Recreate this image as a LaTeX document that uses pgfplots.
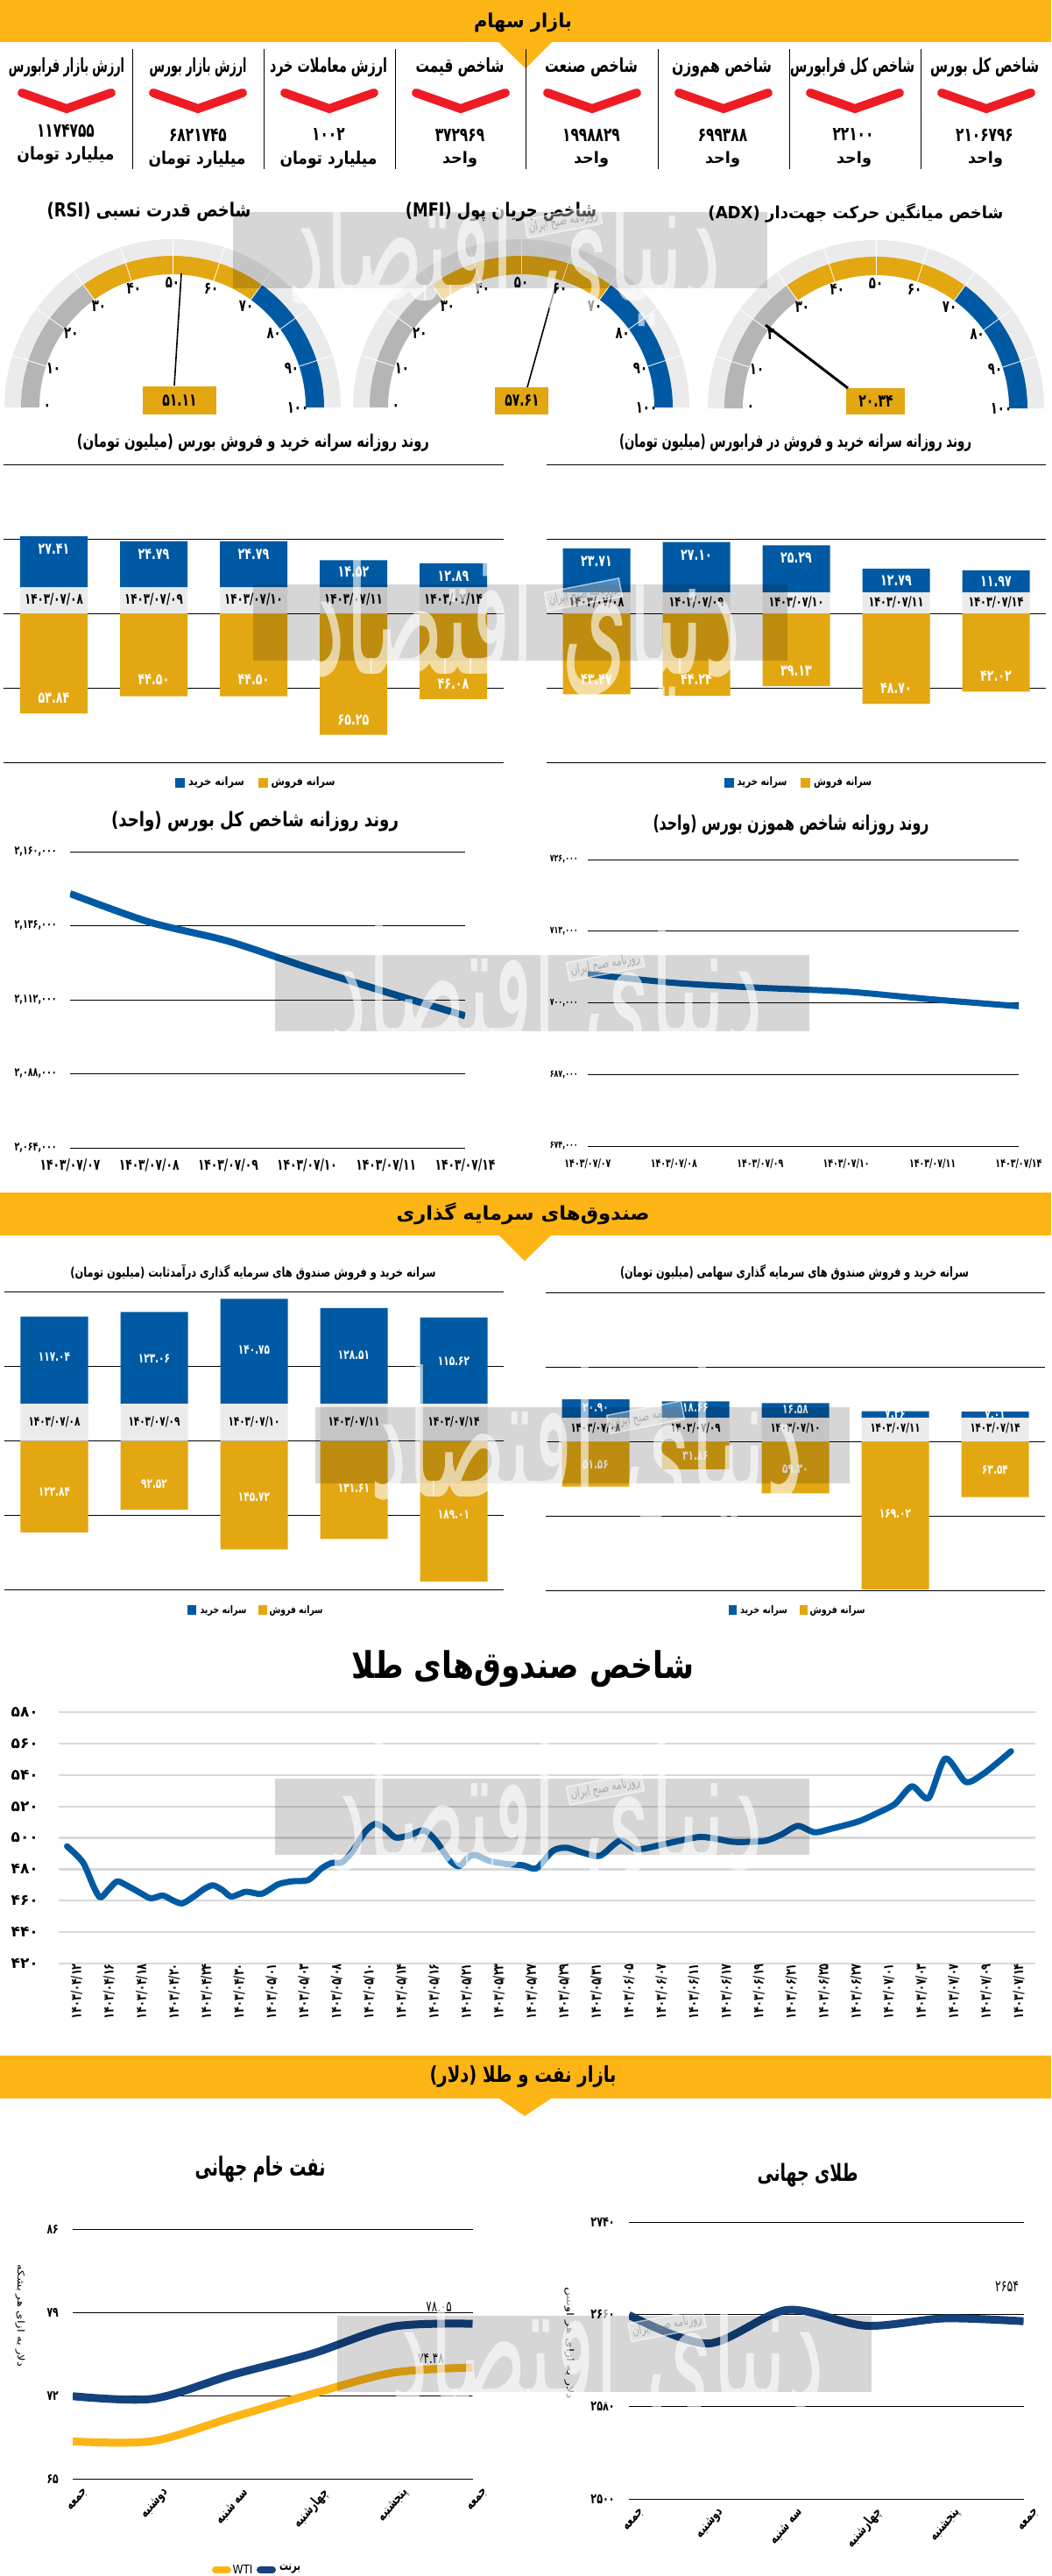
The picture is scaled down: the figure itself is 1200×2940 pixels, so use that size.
\documentclass[border=0pt]{standalone}
\usepackage{fontspec}
\usepackage{pgfplots}
\usepackage{pgfplotstable}
\pgfplotsset{compat=1.18}
\TeXXeTstate=1
\newfontfamily\fafam[Script=Arabic,FakeStretch=0.7]{DejaVu Sans}
\newfontfamily\fawide[Script=Arabic]{DejaVu Sans}
\setmainfont{DejaVu Sans}
\newcommand{\FS}[1]{\fontsize{#1}{#1}\selectfont\fafam}
\newcommand{\FB}[1]{\fontsize{#1}{#1}\selectfont\fafam\bfseries}
\newcommand{\R}[1]{\beginR #1\endR}
\newcommand{\tw}[5]{\node[inner sep=0pt] at (#1,#2) {\resizebox*{#3pt}{#4pt}{\FB{24}\R{#5}}};}
\newcommand{\twr}[6]{\node[inner sep=0pt,rotate=#6,text=black] at (#1,#2) {\resizebox*{#3pt}{#4pt}{\FS{24}\R{#5}}};}
\definecolor{band}{HTML}{FDB515}
\definecolor{gbar}{HTML}{E3A711}
\definecolor{bbar}{HTML}{005AA3}
\definecolor{navy}{HTML}{14427F}
\definecolor{spacer}{HTML}{EBEBEB}
\definecolor{lt}{HTML}{EBEBEB}
\definecolor{gr}{HTML}{B5B5B5}
\definecolor{chev}{HTML}{ED1C24}
\definecolor{gline}{HTML}{D9D9D9}

% Bar panels: i spacer buy sell, then label heights and label strings
\pgfplotstableread{
i spacer buy sell dy by sy d bl sl
0 14 27.41 -53.84 7.7 34.7 -45.3 ۱۴۰۳/۰۷/۰۸ ۲۷.۴۱ ۵۳.۸۴
1 14 24.79 -44.50 7.7 31.5 -35.6 ۱۴۰۳/۰۷/۰۹ ۲۴.۷۹ ۴۴.۵۰
2 14 24.79 -44.50 7.7 31.5 -35.6 ۱۴۰۳/۰۷/۱۰ ۲۴.۷۹ ۴۴.۵۰
3 14 14.52 -65.25 7.7 22.1 -57.1 ۱۴۰۳/۰۷/۱۱ ۱۴.۵۲ ۶۵.۲۵
4 14 12.89 -46.08 7.7 19.8 -38.0 ۱۴۰۳/۰۷/۱۴ ۱۲.۸۹ ۴۶.۰۸
}\tblA
\pgfplotstableread{
i spacer buy sell dy by sy d bl sl
0 11.2 23.71 -43.47 6.1 28.1 -35.5 ۱۴۰۳/۰۷/۰۸ ۲۳.۷۱ ۴۳.۴۷
1 11.2 27.10 -44.24 6.1 31.2 -35.6 ۱۴۰۳/۰۷/۰۹ ۲۷.۱۰ ۴۴.۲۴
2 11.2 25.29 -39.13 6.1 29.6 -30.7 ۱۴۰۳/۰۷/۱۰ ۲۵.۲۹ ۳۹.۱۳
3 11.2 12.79 -48.70 6.1 17.4 -40.3 ۱۴۰۳/۰۷/۱۱ ۱۲.۷۹ ۴۸.۷۰
4 11.2 11.97 -42.02 6.1 16.9 -33.6 ۱۴۰۳/۰۷/۱۴ ۱۱.۹۷ ۴۲.۰۲
}\tblB
\pgfplotstableread{
i spacer buy sell dy by sy d bl sl
0 50 117.04 -122.84 25.8 112.6 -68.0 ۱۴۰۳/۰۷/۰۸ ۱۱۷.۰۴ ۱۲۲.۸۴
1 50 123.06 -92.52 25.8 110.7 -58.3 ۱۴۰۳/۰۷/۰۹ ۱۲۳.۰۶ ۹۲.۵۲
2 50 140.75 -145.72 25.8 121.6 -75.9 ۱۴۰۳/۰۷/۱۰ ۱۴۰.۷۵ ۱۴۵.۷۲
3 50 128.51 -131.61 25.8 115.0 -64.1 ۱۴۰۳/۰۷/۱۱ ۱۲۸.۵۱ ۱۳۱.۶۱
4 50 115.62 -189.01 25.8 107.0 -98.5 ۱۴۰۳/۰۷/۱۴ ۱۱۵.۶۲ ۱۸۹.۰۱
}\tblC
\pgfplotstableread{
i spacer buy sell dy by sy d bl sl
0 27 20.90 -51.56 14.7 38.7 -26.3 ۱۴۰۳/۰۷/۰۸ ۲۰.۹۰ ۵۱.۵۶
1 27 18.66 -31.86 14.7 38.7 -17.0 ۱۴۰۳/۰۷/۰۹ ۱۸.۶۶ ۳۱.۸۶
2 27 16.58 -59.30 14.7 36.0 -31.3 ۱۴۰۳/۰۷/۱۰ ۱۶.۵۸ ۵۹.۳۰
3 27 7.36 -169.02 14.7 31.3 -83.0 ۱۴۰۳/۰۷/۱۱ ۷.۳۶ ۱۶۹.۰۲
4 27 7.01 -63.54 14.7 30.3 -33.0 ۱۴۰۳/۰۷/۱۴ ۷.۰۱ ۶۳.۵۴
}\tblD

\pgfplotsset{
 barbase/.style={scale only axis,width=570pt,height=340pt,anchor=north west,
   xmin=-0.5,xmax=4.5,axis line style={draw=none},tick style={draw=none},
   xtick=\empty},
 linebase/.style={scale only axis,anchor=north west,axis line style={draw=none},
   tick style={draw=none},ymajorgrids,grid style={black,line width=1pt},
   scaled y ticks=false,scaled x ticks=false,
   yticklabel style={anchor=east,inner sep=0pt},
   xticklabel style={inner sep=0pt},xmin=0,xmax=5,xtick={0,1,2,3,4,5}},
 lab/.style={draw=none,mark=none,point meta=explicit symbolic,nodes near coords,
   nodes near coords align={center}},
}

% x, ytop, ymax, half, table, date font size, value font size
\newcommand{\barpanel}[7]{%
\begin{axis}[barbase,at={(#1pt,-#2pt)},ymin=-#3,ymax=#3,ytick={-#3,-#4,0,#4,#3},
   yticklabels={},ymajorgrids,grid style={black,line width=1pt}]
\addplot[ybar,bar width=77pt,bar shift=0pt,fill=gbar,draw=none] table[x=i,y=sell]{#5};
\end{axis}
\begin{axis}[barbase,at={(#1pt,-#2pt)},ymin=-#3,ymax=#3,hide axis,ybar stacked,bar width=77pt]
\addplot[fill=spacer,draw=none] table[x=i,y=spacer]{#5};
\addplot[fill=bbar,draw=none] table[x=i,y=buy]{#5};
\end{axis}
\begin{axis}[barbase,at={(#1pt,-#2pt)},ymin=-#3,ymax=#3,hide axis,clip=false]
\addplot[lab,nodes near coords style={font=\FB{#6},text=black,inner sep=0pt}] table[x=i,y=dy,meta=d]{#5};
\addplot[lab,nodes near coords style={font=\FB{#7},text=white,inner sep=0pt}] table[x=i,y=by,meta=bl]{#5};
\addplot[lab,nodes near coords style={font=\FB{#7},text=white,inner sep=0pt}] table[x=i,y=sy,meta=sl]{#5};
\end{axis}}

\newcommand{\band}[5]{\fill[#5] (#1:#4pt) arc[start angle=#1,end angle=#2,radius=#4pt] -- (#2:#3pt) arc[start angle=#2,end angle=#1,radius=#3pt] -- cycle;}
\newcommand{\gauge}[2]{%
\begin{scope}[shift={(#1pt,-#2pt)}]
\band{180}{0}{172}{192}{lt}
\band{180}{126}{152}{173}{gr}
\band{126}{54}{152}{173}{gbar}
\band{54}{0}{152}{173}{bbar}
\foreach \a in {162,144,126,108,90,72,54,36,18} \draw[white,line width=.8pt] (\a:152pt)--(\a:192pt);
\foreach \v/\l in {0/۰,10/۱۰,20/۲۰,30/۳۰,40/۴۰,50/۵۰,60/۶۰,70/۷۰,80/۸۰,90/۹۰,100/۱۰۰}{
  \pgfmathsetmacro\ang{180-1.8*\v}
  \node[inner sep=0pt,font=\FB{19}] at (\ang:143pt) {\l};}
\end{scope}}
% cx, base y, bx, by, tx, ty, needle width
\newcommand{\needle}[7]{%
\begin{axis}[scale only axis,width=400pt,height=212pt,anchor=south west,at={(#1pt-200pt,-#2pt-12pt)},
  xmin=-200,xmax=200,ymin=-12,ymax=200,hide axis,clip=false]
\addplot[black,line width=#7pt,mark=none] coordinates {(#3,#4)(#5,#6)};
\end{axis}}
\newcommand{\wm}[2]{%
\fill[black,opacity=.16] (#1-305,#2-43.5) rectangle (#1+305,#2+43.5);
\node[inner sep=0pt,text=white,text opacity=.62] at (#1+5,#2-2) {\resizebox*{495pt}{180pt}{\FS{60}\R{دنیای اقتصاد}}};
\node[rotate=11,inner sep=3pt,draw=white,line width=1.5pt,draw opacity=.6,fill=white,fill opacity=.3,text opacity=.55,text=gray,font=\FS{15}] at (#1+72,#2-32) {\R{روزنامه صبح ایران}};}

\begin{document}
\begin{tikzpicture}
\path[use as bounding box,fill=white] (0pt,0pt) rectangle (1200pt,-2940pt);

\begin{scope}[x=1pt,y=-1pt]
% bands
\fill[band] (0,0) rectangle (1200,48);
\fill[band] (569,48) -- (630,48) -- (600,78) -- cycle;
\tw{597}{26}{112}{22}{بازار سهام}
\fill[band] (0,1361) rectangle (1200,1410);
\fill[band] (570,1410) -- (629,1410) -- (599,1439) -- cycle;
\tw{597}{1385}{289}{25}{صندوق‌های سرمایه گذاری}
\fill[band] (0,2346) rectangle (1200,2395);
\fill[band] (570,2395) -- (629,2395) -- (599,2415) -- cycle;
\tw{597}{2370}{213}{25}{بازار نفت و طلا (دلار)}

% KPI columns
\foreach \x in {151,301,451,600.5,751,901,1051} \draw[black,line width=1pt] (\x,56)--(\x,193);
\foreach \x in {76,226,376,526,676,826,976,1126}
  \draw[chev,line width=10pt,line cap=round,miter limit=4] (\x-51,106)--(\x,124)--(\x+51,106);
\tw{1124}{77}{124}{22}{شاخص کل بورس}
\tw{973}{77}{142}{22}{شاخص کل فرابورس}
\tw{824}{77}{114}{22}{شاخص هم‌وزن}
\tw{675}{77}{106}{22}{شاخص صنعت}
\tw{525}{77}{101}{22}{شاخص قیمت}
\tw{375}{77}{134}{22}{ارزش معاملات خرد}
\tw{226}{77}{111}{22}{ارزش بازار بورس}
\tw{76}{77}{132}{22}{ارزش بازار فرابورس}
\node[font=\FB{22}] at (1124,154) {۲۱۰۶۷۹۶};
\node[font=\FB{22}] at (974,154) {۲۲۱۰۰};
\node[font=\FB{22}] at (825,154) {۶۹۹۳۸۸};
\node[font=\FB{22}] at (675,154) {۱۹۹۸۸۲۹};
\node[font=\FB{22}] at (525,154) {۳۷۲۹۶۹};
\node[font=\FB{22}] at (375,154) {۱۰۰۲};
\node[font=\FB{22}] at (226,154) {۶۸۲۱۷۴۵};
\node[font=\FB{22}] at (75,149) {۱۱۷۴۷۵۵};
\tw{1125}{182}{40}{18}{واحد}
\tw{975}{182}{40}{18}{واحد}
\tw{825}{182}{40}{18}{واحد}
\tw{675}{182}{40}{18}{واحد}
\tw{525}{182}{40}{18}{واحد}
\tw{375}{182}{111}{20}{میلیارد تومان}
\tw{225}{182}{111}{20}{میلیارد تومان}
\tw{75}{177}{111}{20}{میلیارد تومان}
% gauge titles
\tw{170}{242}{233}{22}{شاخص قدرت نسبی (\beginL RSI\endL)}
\tw{572}{242}{218}{22}{شاخص جریان پول (\beginL MFI\endL)}
\tw{977}{243}{337}{22}{شاخص میانگین حرکت جهت‌دار (\beginL ADX\endL)}
\end{scope}

\gauge{197}{465}
\gauge{595}{465}
\gauge{1000}{466}
\begin{scope}[x=1pt,y=-1pt]
\fill[gbar] (163,441) rectangle (247,473);
\fill[gbar] (565,442) rectangle (626,473);
\fill[gbar] (966,443) rectangle (1033,473);
\node[font=\FB{20}] at (205,457) {۵۱.۱۱};
\node[font=\FB{20}] at (596,457) {۵۷.۶۱};
\node[font=\FB{20}] at (1000,458) {۲۰.۳۴};
\end{scope}
\needle{197}{465}{2}{25}{10}{153}{1.6}
\needle{595}{465}{7}{23}{39}{138}{1.6}
\needle{1000}{466}{-32}{23}{-126}{95}{3}

% top bar panels
\begin{scope}[x=1pt,y=-1pt]
\tw{289}{505}{402}{20}{روند روزانه سرانه خرید و فروش بورس (میلیون تومان)}
\tw{908}{505}{402}{20}{روند روزانه سرانه خرید و فروش در فرابورس (میلیون تومان)}
\fill[bbar] (200,888) rectangle (211,899); \tw{247}{893}{64}{13}{سرانه خرید}
\fill[gbar] (295,888) rectangle (306,899); \tw{346}{893}{73}{13}{سرانه فروش}
\fill[bbar] (827,888) rectangle (838,899); \tw{870}{893}{57}{13}{سرانه خرید}
\fill[gbar] (914,888) rectangle (925,899); \tw{962}{893}{66}{13}{سرانه فروش}
\tw{291}{938}{328}{23}{روند روزانه شاخص کل بورس (واحد)}
\tw{903}{942}{315}{23}{روند روزانه شاخص هموزن بورس (واحد)}
\tw{289}{1452}{417}{18}{سرانه خرید و فروش صندوق های سرمایه گذاری درآمدثابت (میلیون تومان)}
\tw{907}{1452}{398}{18}{سرانه خرید و فروش صندوق های سرمایه گذاری سهامی (میلیون تومان)}
\fill[bbar] (214,1832) rectangle (224,1843); \tw{255}{1838}{53}{12}{سرانه خرید}
\fill[gbar] (295,1832) rectangle (305,1843); \tw{338}{1838}{61}{12}{سرانه فروش}
\fill[bbar] (832,1832) rectangle (841,1843); \tw{872}{1838}{54}{12}{سرانه خرید}
\fill[gbar] (913,1832) rectangle (922,1843); \tw{956}{1838}{63}{12}{سرانه فروش}
\tw{597}{1905}{390}{42}{شاخص صندوق‌های طلا}
\tw{297}{2476}{149}{30}{نفت خام جهانی}
\tw{922}{2483}{115}{27}{طلای جهانی}
\twr{23}{2643}{117}{11}{دلار به ازای هر بشکه}{-90}
\twr{650}{2674}{128}{11}{دلار به ازای هر اونس}{-90}
\draw[band,line width=8pt,line cap=round] (246,2933)--(260,2933);
\draw[navy,line width=8pt,line cap=round] (297,2933)--(311,2933);
\node[inner sep=0pt] at (277,2932) {\resizebox*{23pt}{10pt}{\FS{20}WTI}};
\tw{331}{2932}{24}{11}{برنت}
\end{scope}

\barpanel{4.5}{530}{80}{40}{\tblA}{17}{18}
\barpanel{624}{530}{80}{40}{\tblB}{16}{18}
\barpanel{5}{1474.5}{200}{100}{\tblC}{15}{15}
\barpanel{623}{1475}{170}{85}{\tblD}{14.5}{15}

% index lines
\begin{axis}[linebase,at={(80pt,-972pt)},width=451pt,height=338pt,
  ymin=2064000,ymax=2160000,ytick={2064000,2088000,2112000,2136000,2160000},
  yticklabels={{۲,۰۶۴,۰۰۰},{۲,۰۸۸,۰۰۰},{۲,۱۱۲,۰۰۰},{۲,۱۳۶,۰۰۰},{۲,۱۶۰,۰۰۰}},
  yticklabel style={font=\FB{13.7},xshift=-15pt},
  xticklabels={۱۴۰۳/۰۷/۰۷,۱۴۰۳/۰۷/۰۸,۱۴۰۳/۰۷/۰۹,۱۴۰۳/۰۷/۱۰,۱۴۰۳/۰۷/۱۱,۱۴۰۳/۰۷/۱۴},
  xticklabel style={font=\FB{17.5},yshift=-13pt}]
\addplot[bbar,line width=8pt,smooth] coordinates {(0,2146400)(1,2137200)(2,2131000)(3,2122500)(4,2114500)(5,2106796)};
\end{axis}
\begin{axis}[linebase,at={(671pt,-981pt)},width=492pt,height=327pt,
  ymin=674000,ymax=726000,ytick={674000,687000,700000,713000,726000},
  yticklabels={{۶۷۴,۰۰۰},{۶۸۷,۰۰۰},{۷۰۰,۰۰۰},{۷۱۳,۰۰۰},{۷۲۶,۰۰۰}},
  yticklabel style={font=\FB{11.3},xshift=-11pt},
  xticklabels={۱۴۰۳/۰۷/۰۷,۱۴۰۳/۰۷/۰۸,۱۴۰۳/۰۷/۰۹,۱۴۰۳/۰۷/۱۰,۱۴۰۳/۰۷/۱۱,۱۴۰۳/۰۷/۱۴},
  xticklabel style={font=\FB{13.5},yshift=-14pt}]
\addplot[bbar,line width=7pt,smooth] coordinates {(0,705216)(1,703630)(2,702730)(3,702040)(4,700620)(5,699388)};
\end{axis}

% gold funds index
\begin{axis}[linebase,at={(67pt,-1954pt)},width=1115pt,height=287pt,clip=false,
  grid style={gline,line width=2.2pt},
  xmin=-0.256,xmax=29.81,xtick={0,...,29},
  xticklabels={۱۴۰۳/۰۴/۱۲,۱۴۰۳/۰۴/۱۶,۱۴۰۳/۰۴/۱۸,۱۴۰۳/۰۴/۲۰,۱۴۰۳/۰۴/۲۴,۱۴۰۳/۰۴/۳۰,۱۴۰۳/۰۵/۰۱,۱۴۰۳/۰۵/۰۳,۱۴۰۳/۰۵/۰۸,۱۴۰۳/۰۵/۱۰,۱۴۰۳/۰۵/۱۴,۱۴۰۳/۰۵/۱۶,۱۴۰۳/۰۵/۲۱,۱۴۰۳/۰۵/۲۳,۱۴۰۳/۰۵/۲۷,۱۴۰۳/۰۵/۲۹,۱۴۰۳/۰۵/۳۱,۱۴۰۳/۰۶/۰۵,۱۴۰۳/۰۶/۰۷,۱۴۰۳/۰۶/۱۱,۱۴۰۳/۰۶/۱۷,۱۴۰۳/۰۶/۱۹,۱۴۰۳/۰۶/۲۱,۱۴۰۳/۰۶/۲۵,۱۴۰۳/۰۶/۲۷,۱۴۰۳/۰۷/۰۱,۱۴۰۳/۰۷/۰۳,۱۴۰۳/۰۷/۰۷,۱۴۰۳/۰۷/۰۹,۱۴۰۳/۰۷/۱۴},
  xticklabel style={font=\FB{16},rotate=90,anchor=east,yshift=-11pt},
  ymin=420,ymax=580,ytick={420,440,460,480,500,520,540,560,580},
  yticklabels={۴۲۰,۴۴۰,۴۶۰,۴۸۰,۵۰۰,۵۲۰,۵۴۰,۵۶۰,۵۸۰},
  yticklabel style={font=\fontsize{17}{17}\selectfont\fawide\bfseries,xshift=-23pt}]
\addplot[bbar,line width=7pt,smooth,tension=0.45,line cap=round,line join=round] coordinates {
(0.00,494.6)(0.25,489.9)(0.52,483.4)(0.83,468.5)(1.03,462.0)(1.30,467.6)(1.55,472.3)(1.86,469.5)
(2.27,464.8)(2.58,461.5)(2.95,463.3)(3.26,460.2)(3.55,458.3)(3.92,462.9)(4.23,467.6)(4.50,469.8)
(4.79,466.7)(5.06,462.6)(5.51,465.7)(5.99,464.4)(6.50,470.4)(6.91,472.3)(7.43,473.2)(7.84,480.6)
(8.15,484.0)(8.46,484.4)(8.77,490.9)(9.18,503.9)(9.49,508.9)(9.80,505.8)(10.11,500.2)(10.53,501.5)
(10.98,504.8)(11.35,498.3)(11.76,486.2)(12.07,481.9)(12.38,488.1)(12.59,489.0)(13.00,485.3)(13.52,483.4)
(14.04,482.5)(14.45,480.6)(14.96,491.8)(15.38,493.7)(15.89,490.5)(16.41,488.6)(17.03,498.3)(17.54,492.7)
(18.27,495.5)(18.89,498.3)(19.50,500.6)(20.02,499.3)(20.54,497.4)(21.47,498.0)(21.98,502.0)(22.50,507.6)
(23.01,503.5)(23.53,505.8)(24.36,510.4)(24.97,516.0)(25.49,521.6)(26.01,532.8)(26.52,525.3)(27.04,550.5)
(27.66,535.6)(28.17,540.2)(28.69,548.6)(29.06,555.1)};
\end{axis}

% oil
\begin{axis}[linebase,at={(83pt,-2544pt)},width=456.5pt,height=285.5pt,
  ymin=65,ymax=86,ytick={65,72,79,86},yticklabels={۶۵,۷۲,۷۹,۸۶},
  yticklabel style={font=\FB{15.5},xshift=-16pt},
  xticklabels={\R{جمعه},\R{دوشنبه},\R{سه شنبه},\R{چهارشنبه},\R{پنجشنبه},\R{جمعه}},
  xticklabel style={font=\FB{16},rotate=50,anchor=east,yshift=-20pt}]
\addplot[band,line width=9pt,smooth] coordinates {(0,68.17)(1,68.20)(2,70.20)(3,72.17)(4,73.94)(5,74.38)};
\addplot[navy,line width=9pt,smooth] coordinates {(0,71.97)(1,71.75)(2,73.77)(3,75.55)(4,77.80)(5,78.05)};
\addplot[lab,nodes near coords style={font=\FS{17},text=black,inner sep=0pt}] coordinates {(4.58,79.48)[۷۸.۰۵] (4.48,75.14)[۷۴.۳۸]};
\end{axis}

% gold world
\begin{axis}[linebase,at={(718pt,-2536pt)},width=450.6pt,height=316pt,
  ymin=2500,ymax=2740,ytick={2500,2580,2660,2740},yticklabels={۲۵۰۰,۲۵۸۰,۲۶۶۰,۲۷۴۰},
  yticklabel style={font=\FB{16},xshift=-16pt},
  xticklabels={\R{جمعه},\R{دوشنبه},\R{سه شنبه},\R{چهارشنبه},\R{پنجشنبه},\R{جمعه}},
  xticklabel style={font=\FB{16},rotate=50,anchor=east,yshift=-20pt}]
\addplot[navy,line width=9pt,smooth] coordinates {(0,2659.4)(1,2634.7)(2,2663.8)(3,2650.1)(4,2656.5)(5,2654)};
\addplot[lab,nodes near coords style={font=\FS{18},text=black,inner sep=0pt}] coordinates {(4.79,2684)[۲۶۵۴]};
\end{axis}

% watermarks
\begin{scope}[x=1pt,y=-1pt]
\wm{571}{285}
\wm{594}{710.5}
\wm{619}{1133}
\wm{665}{1649.5}
\wm{619}{2073.5}
\wm{689.5}{2686}
\end{scope}
\end{tikzpicture}
\end{document}
